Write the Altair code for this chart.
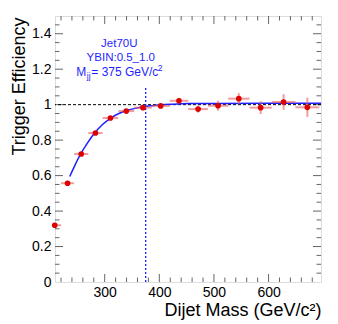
import altair as alt
import pandas as pd

# ---- data ----
bin_lo = [197, 220, 244, 270, 296, 325, 354, 386, 419, 453, 489, 526, 565, 606, 649]
bin_hi = [220, 244, 270, 296, 325, 354, 386, 419, 453, 489, 526, 565, 606, 649, 693]
eff = [0.32, 0.557, 0.722, 0.840, 0.925, 0.964, 0.983, 0.993, 1.022, 0.975, 0.994, 1.034, 0.983, 1.015, 0.985]
eff_err = [0.008, 0.008, 0.008, 0.008, 0.007, 0.007, 0.008, 0.010, 0.016, 0.020, 0.028, 0.031, 0.036, 0.044, 0.054]

fit_x = [236, 245, 256, 268, 281.5, 296, 312, 326, 341, 356, 371, 386, 402, 425, 455, 500, 600, 696]
fit_y = [0.595, 0.655, 0.722, 0.782, 0.840, 0.888, 0.926, 0.950, 0.967, 0.979, 0.988, 0.994, 0.999, 1.003, 1.006, 1.007, 1.008, 1.008]

x_major = [300, 400, 500, 600]
x_minor = [220, 240, 260, 280, 320, 340, 360, 380, 420, 440, 460, 480, 520, 540, 560, 580, 620, 640, 660, 680]
y_major = [0.2, 0.4, 0.6, 0.8, 1.0, 1.2, 1.4]
y_minor = [0.05, 0.1, 0.15, 0.25, 0.3, 0.35, 0.45, 0.5, 0.55, 0.65, 0.7, 0.75, 0.85, 0.9, 0.95,
           1.05, 1.1, 1.15, 1.25, 1.3, 1.35, 1.45]
y_labels = [0, 0.2, 0.4, 0.6, 0.8, 1.0, 1.2, 1.4]

mjj_cut = 375
x_domain = [209, 696]
y_domain = [0, 1.5]

W, H = 266, 266
FONT = "Liberation Sans"
BLUE = "#1f1fff"

pts = pd.DataFrame({
    "lo": bin_lo, "hi": bin_hi,
    "x": [(a + b) / 2 for a, b in zip(bin_lo, bin_hi)],
    "y": eff,
    "ylo": [v - e for v, e in zip(eff, eff_err)],
    "yhi": [v + e for v, e in zip(eff, eff_err)],
})
fit = pd.DataFrame({"x": fit_x, "y": fit_y})

xs = alt.Scale(domain=x_domain, nice=False, zero=False)
ys = alt.Scale(domain=y_domain, nice=False, zero=False)

x_axis = alt.Axis(values=x_major, ticks=False, tickSize=0, domain=False, grid=False,
                  labelOverlap=False, labelFlush=False,
                  labelFontSize=14, labelFont=FONT, labelColor="black", labelPadding=3,
                  title="Dijet Mass (GeV/c²)", titleFont=FONT, titleFontSize=18,
                  titleFontWeight="normal", titleColor="black", titleAnchor="end",
                  titleAlign="right", titleBaseline="alphabetic", titleX=W, titleY=33)
y_axis = alt.Axis(values=y_labels, format=".1~f", ticks=False, tickSize=0, domain=False, grid=False,
                  labelOverlap=False, labelFlush=False,
                  labelFontSize=14, labelFont=FONT, labelColor="black", labelPadding=4,
                  title="Trigger Efficiency", titleFont=FONT, titleFontSize=18,
                  titleFontWeight="normal", titleColor="black", titleAngle=270,
                  titleAlign="right", titleBaseline="alphabetic", titleX=-31, titleY=1)


def X(field):
    return alt.X(field, scale=xs, axis=x_axis)


def Y(field):
    return alt.Y(field, scale=ys, axis=y_axis)


TICK = "#666666"
xmaj = pd.DataFrame({"v": x_major})
xmin = pd.DataFrame({"v": x_minor})
ymaj = pd.DataFrame({"v": y_major})
ymin = pd.DataFrame({"v": y_minor})


def xticks(df, length):
    b = alt.Chart(df).mark_rule(color=TICK, strokeWidth=1)
    bottom = b.encode(x=X("v:Q"), y=alt.value(H), y2=alt.value(H - length))
    top = b.encode(x=X("v:Q"), y=alt.value(0), y2=alt.value(length))
    return [bottom, top]


def yticks(df, length):
    b = alt.Chart(df).mark_rule(color=TICK, strokeWidth=1)
    left = b.encode(y=Y("v:Q"), x=alt.value(0), x2=alt.value(length))
    right = b.encode(y=Y("v:Q"), x=alt.value(W), x2=alt.value(W - length))
    return [left, right]


ticks = xticks(xmaj, 8) + xticks(xmin, 4.5) + yticks(ymaj, 8) + yticks(ymin, 4.5)

one_line = alt.Chart(pd.DataFrame({"y": [1.0]})).mark_rule(
    color="black", strokeDash=[3, 2], strokeWidth=1).encode(y=Y("y:Q"))

cut_line = alt.Chart(pd.DataFrame({"x": [mjj_cut], "y": [0], "y2": [1.1]})).mark_rule(
    color=BLUE, strokeDash=[2, 2], strokeWidth=1.3).encode(
    x=X("x:Q"), y=Y("y:Q"), y2="y2:Q")

fit_line = alt.Chart(fit).mark_line(color=BLUE, strokeWidth=1.5, interpolate="monotone").encode(
    x=X("x:Q"), y=Y("y:Q"))

ERR = "#e85a5a"
xerr = alt.Chart(pts).mark_rule(color=ERR, opacity=0.6, strokeWidth=2, clip=True).encode(
    x=X("lo:Q"), x2="hi:Q", y=Y("y:Q"))
yerr = alt.Chart(pts).mark_rule(color=ERR, opacity=0.6, strokeWidth=2, clip=True).encode(
    x=X("x:Q"), y=Y("ylo:Q"), y2="yhi:Q")
dots = alt.Chart(pts).mark_circle(color="#dd0000", opacity=1, size=32).encode(
    x=X("x:Q"), y=Y("y:Q"))


def label(text, x, y, size=11.5, align="center", baseline="middle"):
    return alt.Chart(pd.DataFrame({"t": [text]})).mark_text(
        font=FONT, fontSize=size, color=BLUE, align=align, baseline=baseline).encode(
        text="t:N", x=alt.value(x), y=alt.value(y))


L = 54.7
T = 16
notes = [
    label("Jet70U", 119 - L, 43.7 - T),
    label("YBIN:0.5_1.0", 120.5 - L, 57.5 - T),
    label("M", 76 - L, 76 - T, size=12, align="left", baseline="alphabetic"),
    label("jj", 86.5 - L, 79 - T, size=8.5, align="left", baseline="alphabetic"),
    label("= 375 GeV/c", 91 - L, 76 - T, size=12, align="left", baseline="alphabetic"),
    label("2", 157.5 - L, 70.5 - T, size=8.5, align="left", baseline="alphabetic"),
]

chart = alt.layer(*ticks, one_line, cut_line, fit_line, xerr, yerr, dots, *notes).properties(
    width=W, height=H,
    autosize=alt.AutoSizeParams(type="none"),
    padding={"left": 47, "top": 8, "right": 9, "bottom": 38},
).configure_view(stroke="#555555", strokeWidth=1.5).configure(background="white")

chart.save("out.html", embed_options={"renderer": "svg", "actions": False})
